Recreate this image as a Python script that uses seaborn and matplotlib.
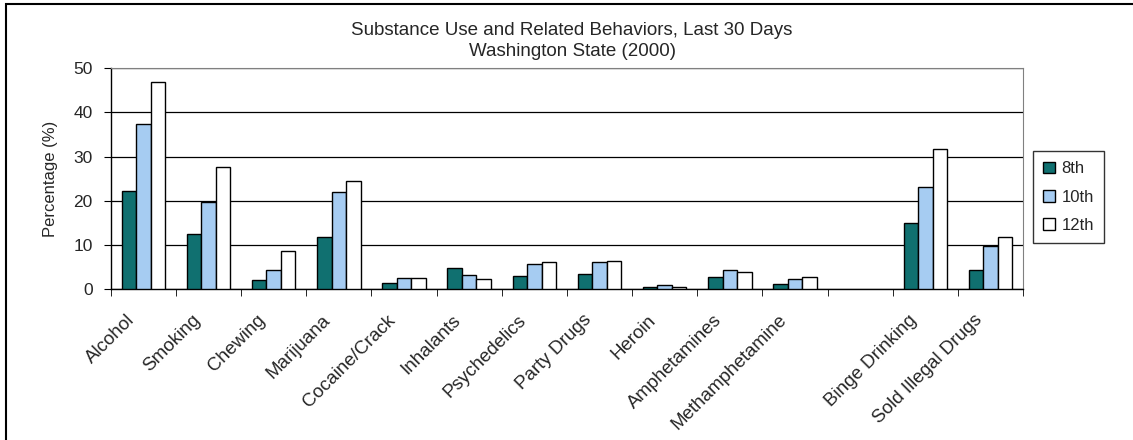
import pandas as pd
import matplotlib
matplotlib.use("Agg")
import matplotlib.pyplot as plt
import matplotlib.transforms as mtransforms
from matplotlib.patches import Rectangle
import seaborn as sns

# datos (el hueco entre Methamphetamine y Binge Drinking va vacio)
categories = ["Alcohol", "Smoking", "Chewing", "Marijuana", "Cocaine/Crack", "Inhalants",
              "Psychedelics", "Party Drugs", "Heroin", "Amphetamines", "Methamphetamine",
              " ", "Binge Drinking", "Sold Illegal Drugs"]
grades = ["8th", "10th", "12th"]
grade8 = [22.3, 12.6, 2.1, 11.8, 1.4, 4.8, 3.1, 3.4, 0.6, 2.7, 1.3, None, 14.9, 4.4]
grade10 = [37.4, 19.8, 4.4, 21.9, 2.6, 3.3, 5.8, 6.2, 1.0, 4.4, 2.3, None, 23.0, 9.8]
grade12 = [46.8, 27.6, 8.7, 24.4, 2.6, 2.3, 6.2, 6.5, 0.6, 3.8, 2.7, None, 31.7, 11.8]

rows = []
for grade, vals in zip(grades, [grade8, grade10, grade12]):
    for cat, v in zip(categories, vals):
        if v is not None:
            rows.append({"cat": cat, "grade": grade, "pct": v})
df = pd.DataFrame(rows)

sns.set_style("white")
plt.rcParams["font.family"] = ["Liberation Sans", "DejaVu Sans"]

fig = plt.figure(figsize=(11.33, 4.4), dpi=100)
ax = fig.add_axes([0.0977, 0.3425, 0.8053, 0.503])

sns.barplot(data=df, x="cat", y="pct", hue="grade", order=categories, hue_order=grades,
            palette=["#008080", "#99CCFF", "#FFFFFF"], edgecolor="black", linewidth=1,
            width=0.667, gap=0, ax=ax, zorder=3)

ax.set_ylim(0, 50)
ax.set_xlim(-0.5, len(categories) - 0.5)
ax.set_yticks([0, 10, 20, 30, 40, 50])
ax.yaxis.grid(True, color="black", lw=0.9)
ax.set_axisbelow(True)

for s in ["top", "right"]:
    ax.spines[s].set_color("#808080")
for s in ["left", "bottom"]:
    ax.spines[s].set_color("black")
    ax.spines[s].set_linewidth(1)

# ticks en los bordes de cada categoria, como en excel
ax.set_xticks([i - 0.5 for i in range(len(categories) + 1)], minor=True)
ax.tick_params(axis="x", which="minor", length=5, direction="out", color="black", bottom=True)
ax.tick_params(axis="x", which="major", length=0, pad=16, labelsize=13.5)
ax.tick_params(axis="y", length=5, direction="out", color="black", left=True, labelsize=12.5, pad=8)
ax.set_xticks(range(len(categories)))
ax.set_xticklabels(categories, rotation=45, ha="right", va="top", rotation_mode="anchor")
shift = mtransforms.ScaledTranslation(-0.17, 0, fig.dpi_scale_trans)
for lab in ax.get_xticklabels():
    lab.set_transform(lab.get_transform() + shift)

ax.set_xlabel("")
ax.set_ylabel("Percentage (%)", fontsize=12, labelpad=11)

handles, labels = ax.get_legend_handles_labels()
ax.legend(handles, labels, loc="center left", bbox_to_anchor=(1.002, 0.416), fontsize=12,
          frameon=True, fancybox=False, edgecolor="black", handlelength=0.7, handleheight=0.7,
          handletextpad=0.4, labelspacing=0.8, borderpad=0.6)
ax.get_legend().get_frame().set_linewidth(1)

fig.text(0.505, 0.93, "Substance Use and Related Behaviors, Last 30 Days", ha="center", va="center", fontsize=13.5)
fig.text(0.505, 0.882, "Washington State (2000)", ha="center", va="center", fontsize=13.5)

# marco exterior del grafico
fig.patches.append(Rectangle((6 / 1133, -0.1), 1.2, 1.1 - 4 / 440, transform=fig.transFigure,
                             fill=False, edgecolor="black", lw=1.5))

fig.savefig("out.png", dpi=100)
